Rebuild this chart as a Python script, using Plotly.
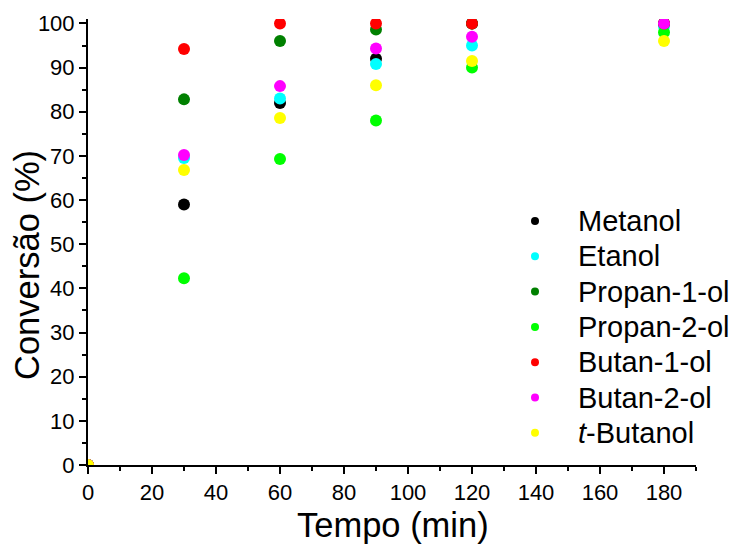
import plotly.graph_objects as go

# Reaction time (min) and conversion (%) for each alcohol
tempo = [0, 30, 60, 90, 120, 180]
metanol = [0, 59.0, 82.0, 92.0, 100.0, 100.0]
etanol = [0, 69.5, 83.0, 90.8, 95.0, 99.3]
propan_1_ol = [0, 82.8, 96.0, 98.6, 100.0, 100.0]
propan_2_ol = [0, 42.3, 69.3, 78.0, 90.0, 98.0]
butan_1_ol = [0, 94.2, 100.0, 100.0, 100.0, 100.0]
butan_2_ol = [0, 70.2, 85.8, 94.3, 97.0, 100.0]
t_butanol = [0, 66.8, 78.6, 86.0, 91.5, 96.0]

names = ["Metanol", "Etanol", "Propan-1-ol", "Propan-2-ol",
         "Butan-1-ol", "Butan-2-ol", "<i>t</i>-Butanol"]
values = [metanol, etanol, propan_1_ol, propan_2_ol, butan_1_ol, butan_2_ol, t_butanol]
colors = ["#000000", "#00FFFF", "#008000", "#00FF00", "#FF0000", "#FF00FF", "#FFFF00"]

FONT = "Liberation Sans, Arial, sans-serif"
W, H = 730, 547
ML, MR, MT, MB = 88, 34, 19, 82
PW, PH = W - ML - MR, H - MT - MB


def px_to_paper(px, py):
    return (px - ML) / PW, (H - MB - py) / PH


fig = go.Figure()
for name, vals, color in zip(names, values, colors):
    fig.add_trace(go.Scatter(
        x=tempo, y=vals, mode="markers", name=name, showlegend=False,
        marker=dict(size=12, color=color, line=dict(width=0)),
    ))

axis_common = dict(
    showline=True, linecolor="#000000", linewidth=2,
    ticks="outside", ticklen=7, tickwidth=2, tickcolor="#000000",
    showgrid=False, zeroline=False, mirror=False,
    tickfont=dict(family=FONT, size=22, color="#000000"),
)

fig.update_xaxes(
    range=[0, 190], tickvals=list(range(0, 181, 20)),
    minor=dict(ticks="outside", dtick=10, tick0=0, ticklen=4, tickwidth=2, tickcolor="#000000"),
    **axis_common,
)
fig.update_yaxes(
    range=[0, 101], tick0=0, dtick=10,
    minor=dict(ticks="outside", dtick=5, tick0=0, ticklen=4, tickwidth=2, tickcolor="#000000"),
    **axis_common,
)

# axis titles
tx, ty = px_to_paper(393, 525)
fig.add_annotation(
    text="Tempo (min)", xref="paper", yref="paper", x=tx, y=ty,
    xanchor="center", yanchor="middle", showarrow=False,
    font=dict(family=FONT, size=34.5, color="#000000"),
)
tx, ty = px_to_paper(27, 265)
fig.add_annotation(
    text="Conversão (%)", xref="paper", yref="paper", x=tx, y=ty,
    xanchor="center", yanchor="middle", showarrow=False, textangle=-90,
    font=dict(family=FONT, size=34.5, color="#000000"),
)

# legend: small dot + label per series
LEG_DOT_X, LEG_TEXT_X, LEG_Y0, LEG_STEP = 535, 576, 221, 35.3
for i, (name, color) in enumerate(zip(names, colors)):
    yc = LEG_Y0 + i * LEG_STEP
    dx, dy = px_to_paper(LEG_DOT_X, yc)
    fig.add_shape(
        type="circle", xref="paper", yref="paper",
        xsizemode="pixel", ysizemode="pixel", xanchor=dx, yanchor=dy,
        x0=-4, x1=4, y0=-4, y1=4,
        fillcolor=color, line=dict(width=0),
    )
    lx, ly = px_to_paper(LEG_TEXT_X, yc)
    fig.add_annotation(
        text=name, xref="paper", yref="paper", x=lx, y=ly,
        xanchor="left", yanchor="middle", showarrow=False,
        font=dict(family=FONT, size=29, color="#000000"),
    )

fig.update_layout(
    width=W, height=H,
    margin=dict(l=ML, r=MR, t=MT, b=MB),
    paper_bgcolor="white", plot_bgcolor="white",
    showlegend=False,
)

fig.write_html("out.html")
